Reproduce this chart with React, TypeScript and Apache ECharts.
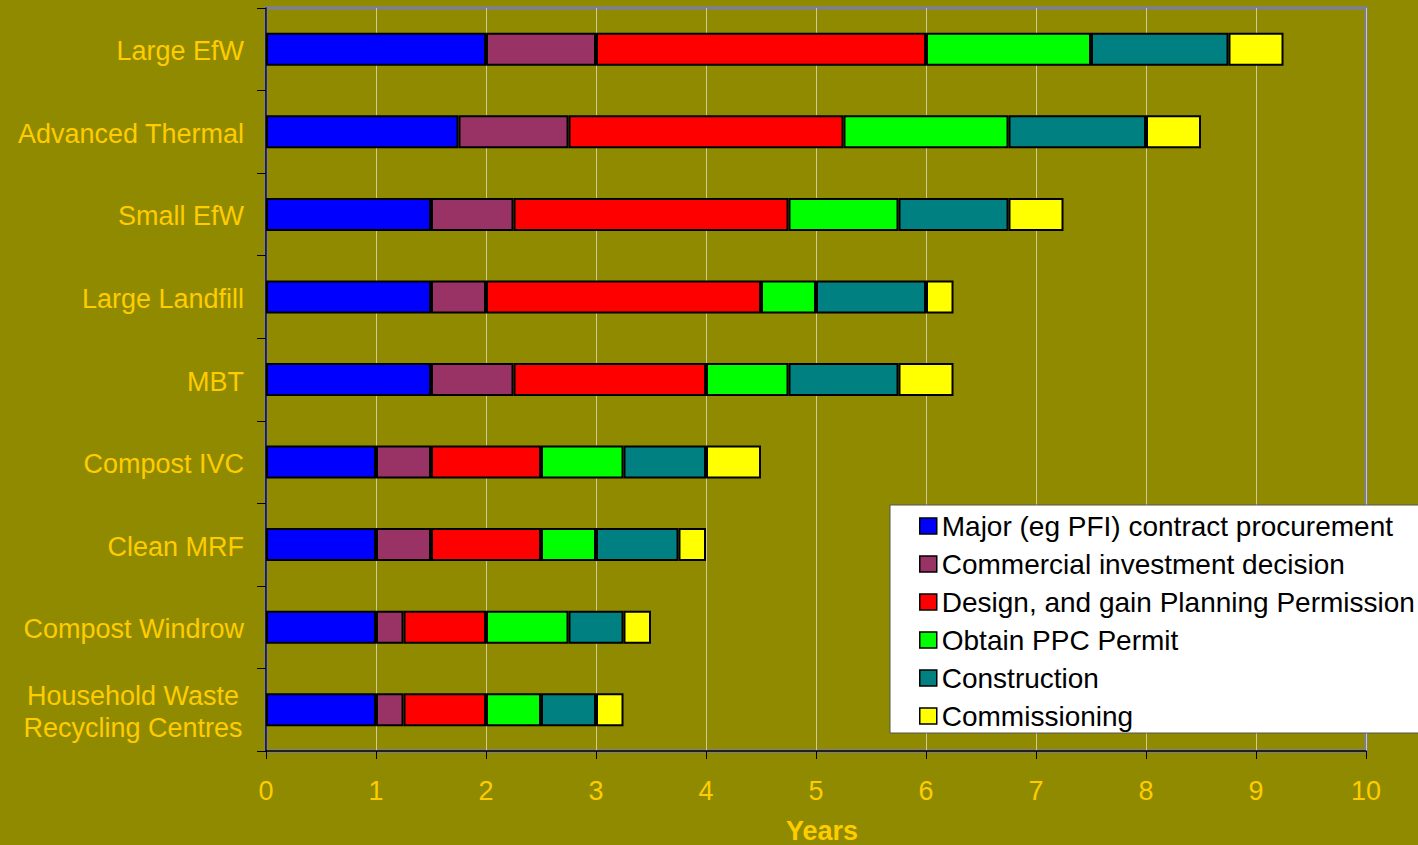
import React, { useEffect, useRef } from "react";
import * as echarts from "echarts";

// Facility types, top to bottom
const categories = [
  "Large EfW",
  "Advanced Thermal",
  "Small EfW",
  "Large Landfill",
  "MBT",
  "Compost IVC",
  "Clean MRF",
  "Compost Windrow",
  "Household Waste\nRecycling Centres",
];

// Duration of each stage, in years, per facility type
const procurement = [2, 1.75, 1.5, 1.5, 1.5, 1, 1, 1, 1];
const investment = [1, 1, 0.75, 0.5, 0.75, 0.5, 0.5, 0.25, 0.25];
const planning = [3, 2.5, 2.5, 2.5, 1.75, 1, 1, 0.75, 0.75];
const ppcPermit = [1.5, 1.5, 1, 0.5, 0.75, 0.75, 0.5, 0.75, 0.5];
const construction = [1.25, 1.25, 1, 1, 1, 0.75, 0.75, 0.5, 0.5];
const commissioning = [0.5, 0.5, 0.5, 0.25, 0.5, 0.5, 0.25, 0.25, 0.25];

const xTicks = [0, 10, 1]; // min, max, interval

const stages = [
  { name: "Major (eg PFI) contract procurement", data: procurement, color: "#0000FF" },
  { name: "Commercial investment decision", data: investment, color: "#993366" },
  { name: "Design, and gain Planning Permission", data: planning, color: "#FF0000" },
  { name: "Obtain PPC Permit", data: ppcPermit, color: "#00FF00" },
  { name: "Construction", data: construction, color: "#008080" },
  { name: "Commissioning", data: commissioning, color: "#FFFF00" },
];

const FONT = "'Liberation Sans', Arial, Helvetica, sans-serif";
const GOLD = "#FFCC00";
const BG = "#8F8A00";
const FS = 27;

export default function App() {
  const ref = useRef<HTMLDivElement>(null);

  useEffect(() => {
    if (!ref.current) return;
    const chart = echarts.init(ref.current, null, { renderer: "svg" });
    chart.setOption({
      animation: false,
      backgroundColor: BG,
      textStyle: { fontFamily: FONT },
      grid: {
        left: 266,
        top: 8,
        right: 52,
        bottom: 94,
        outerBoundsMode: "none",
        show: true,
        borderColor: "#808080",
        borderWidth: 4,
        backgroundColor: BG,
      },
      legend: {
        orient: "vertical",
        left: 890,
        top: 505,
        backgroundColor: "#FFFFFF",
        borderColor: "#555555",
        borderWidth: 1,
        padding: [7, 30, 3, 29],
        itemWidth: 17,
        itemHeight: 16,
        itemGap: 10,
        icon: "rect",
        selectedMode: false,
        itemStyle: { borderColor: "#000000", borderWidth: 1.5 },
        textStyle: { color: "#000000", fontSize: 28, lineHeight: 28, fontFamily: FONT },
        data: stages.map((s) => s.name),
      },
      xAxis: {
        type: "value",
        min: xTicks[0],
        max: xTicks[1],
        interval: xTicks[2],
        name: "Years",
        nameLocation: "middle",
        nameGap: 66,
        nameTextStyle: {
          color: GOLD,
          fontSize: FS,
          fontWeight: "bold",
          fontFamily: FONT,
          padding: [0, 0, 0, 12],
        },
        axisLine: { show: true, lineStyle: { color: "#000000", width: 1.5 } },
        axisTick: { show: true, length: 8, lineStyle: { color: "#000000" } },
        axisLabel: { color: GOLD, fontSize: FS, margin: 26, fontFamily: FONT },
        splitLine: { show: true, lineStyle: { color: "#CFCB98", width: 1 } },
      },
      yAxis: {
        type: "category",
        inverse: true,
        data: categories,
        axisLine: { show: true, lineStyle: { color: "#000000", width: 1.5 } },
        axisTick: { show: true, length: 9, alignWithLabel: false, lineStyle: { color: "#000000" } },
        axisLabel: {
          color: GOLD,
          fontSize: FS,
          lineHeight: 32,
          margin: 22,
          padding: [4, 0, 0, 0],
          fontFamily: FONT,
          // two-line labels are centred line by line
          formatter: (v: string) =>
            v.includes("\n")
              ? v
                  .split("\n")
                  .map((l) => `{c|${l}}`)
                  .join("\n")
              : v,
          rich: {
            c: {
              width: 222,
              align: "center",
              color: GOLD,
              fontSize: FS,
              lineHeight: 32,
              fontFamily: FONT,
            },
          },
        },
        splitLine: { show: false },
      },
      series: stages.map((s) => ({
        name: s.name,
        type: "bar",
        stack: "total",
        barWidth: 33,
        data: s.data,
        itemStyle: { color: s.color, borderColor: "#000000", borderWidth: 2 },
      })),
    });
    return () => chart.dispose();
  }, []);

  return (
    <div
      ref={ref}
      style={{ position: "fixed", left: 0, top: 0, width: 1418, height: 845 }}
    />
  );
}
